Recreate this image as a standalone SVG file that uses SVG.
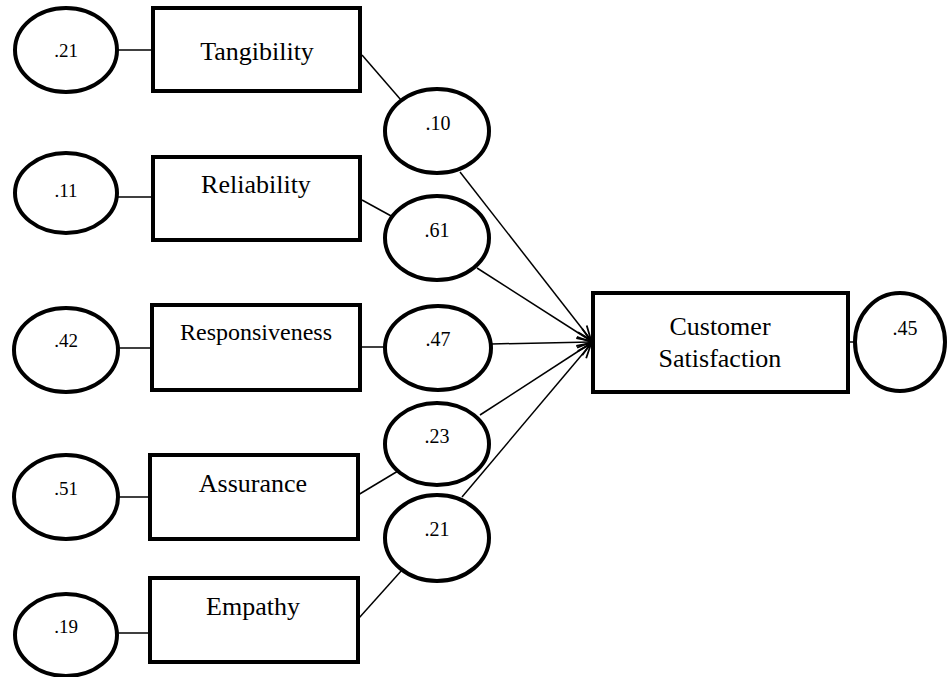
<svg xmlns="http://www.w3.org/2000/svg" width="948" height="677" viewBox="0 0 948 677">
<style>
.box{fill:#fff;stroke:#000;stroke-width:4}
.ell{fill:#fff;stroke:#000;stroke-width:4}
.lbl{font-family:"Liberation Serif","Times New Roman",serif;font-size:26px;fill:#000;text-anchor:middle}
.num{font-family:"Liberation Serif","Times New Roman",serif;font-size:20px;fill:#000;text-anchor:middle}
.numl{font-family:"Liberation Serif","Times New Roman",serif;font-size:19px;fill:#000;text-anchor:middle}
.ln{stroke:#000;stroke-width:1.5;fill:none}
.ar{stroke:#000;stroke-width:1.5;fill:none;marker-end:url(#arr)}
</style>
<defs>
<marker id="arr" markerUnits="userSpaceOnUse" markerWidth="16" markerHeight="12" refX="15" refY="6" orient="auto" overflow="visible">
<path d="M1,0.5 L15,6 L1,11.5" fill="none" stroke="#000" stroke-width="1.8"/>
</marker>
</defs>
<rect width="948" height="677" fill="#fff"/>
<g id="connectors">
<line class="ln" x1="118" y1="50" x2="153" y2="50"/>
<line class="ln" x1="118" y1="197" x2="153" y2="197"/>
<line class="ln" x1="118" y1="348" x2="152" y2="348"/>
<line class="ln" x1="118" y1="497" x2="150" y2="497"/>
<line class="ln" x1="118" y1="633" x2="150" y2="633"/>
<line class="ln" x1="362" y1="55" x2="401" y2="100"/>
<line class="ln" x1="362" y1="200" x2="393" y2="217"/>
<line class="ln" x1="360" y1="347" x2="386" y2="347"/>
<line class="ln" x1="358" y1="495" x2="398" y2="471"/>
<line class="ln" x1="359" y1="618" x2="402" y2="570"/>
<line class="ar" x1="460" y1="172" x2="591" y2="340"/>
<line class="ar" x1="477" y1="268" x2="591" y2="341"/>
<line class="ar" x1="491" y1="344" x2="591" y2="342"/>
<line class="ar" x1="480" y1="415" x2="591" y2="343"/>
<line class="ar" x1="462" y1="497" x2="591" y2="344"/>
<line class="ln" x1="848" y1="342" x2="855" y2="342"/>
</g>
<g id="e_tang"><ellipse class="ell" cx="66" cy="50" rx="51" ry="42"/><text class="numl" x="66" y="57">.21</text></g>
<g id="tangibility"><rect class="box" x="153" y="8" width="207" height="83"/><text class="lbl" x="257" y="60">Tangibility</text></g>
<g id="e_rel"><ellipse class="ell" cx="66" cy="193" rx="51" ry="40"/><text class="numl" x="66" y="197">.11</text></g>
<g id="reliability"><rect class="box" x="153" y="157" width="207" height="83"/><text class="lbl" x="256" y="193">Reliability</text></g>
<g id="e_resp"><ellipse class="ell" cx="66" cy="350" rx="52" ry="42"/><text class="numl" x="66" y="347">.42</text></g>
<g id="responsiveness"><rect class="box" x="152" y="305" width="208" height="85"/><text class="lbl" x="256" y="340" style="font-size:24px">Responsiveness</text></g>
<g id="e_ass"><ellipse class="ell" cx="66" cy="497" rx="52" ry="42"/><text class="numl" x="66" y="495">.51</text></g>
<g id="assurance"><rect class="box" x="150" y="455" width="208" height="84"/><text class="lbl" x="253" y="492">Assurance</text></g>
<g id="e_emp"><ellipse class="ell" cx="66" cy="635" rx="51" ry="41"/><text class="numl" x="66" y="633">.19</text></g>
<g id="empathy"><rect class="box" x="150" y="578" width="208" height="84"/><text class="lbl" x="253" y="615">Empathy</text></g>
<g id="p_tang"><ellipse class="ell" cx="437" cy="131" rx="52" ry="42"/><text class="num" x="438" y="130">.10</text></g>
<g id="p_rel"><ellipse class="ell" cx="437" cy="238" rx="52" ry="42"/><text class="num" x="437" y="237">.61</text></g>
<g id="p_resp"><ellipse class="ell" cx="438" cy="348" rx="53" ry="42"/><text class="num" x="438" y="346">.47</text></g>
<g id="p_ass"><ellipse class="ell" cx="437" cy="444" rx="52" ry="41"/><text class="num" x="437" y="443">.23</text></g>
<g id="p_emp"><ellipse class="ell" cx="437" cy="538" rx="52" ry="43"/><text class="num" x="437" y="536">.21</text></g>
<g id="customer_satisfaction"><rect class="box" x="593" y="293" width="255" height="99"/><text class="lbl" x="720" y="335">Customer</text><text class="lbl" x="720" y="367">Satisfaction</text></g>
<g id="e_cs"><ellipse class="ell" cx="900" cy="342" rx="45" ry="49"/><text class="num" x="905" y="335">.45</text></g>
</svg>
